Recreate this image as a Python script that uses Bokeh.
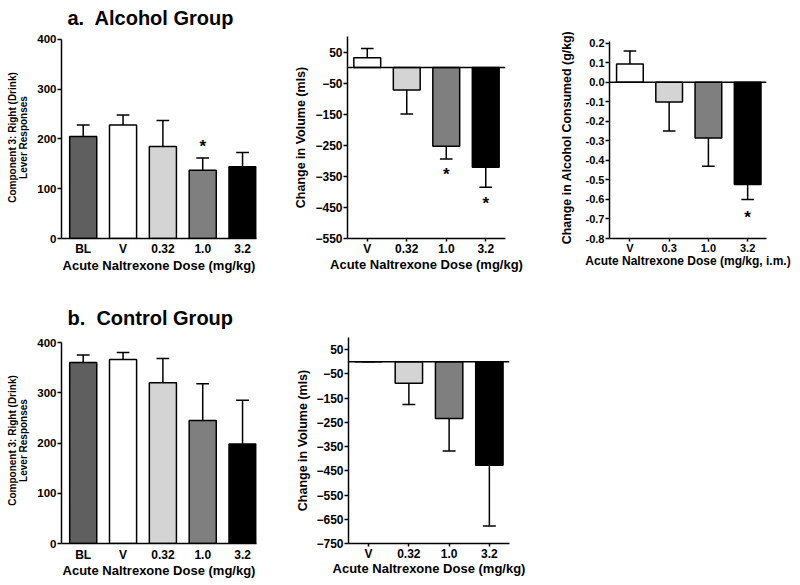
from bokeh.plotting import figure
from bokeh.models import Range1d, FixedTicker, Span, PrintfTickFormatter, ColumnDataSource
from bokeh.layouts import column, row
from bokeh.embed import file_html
from bokeh.resources import INLINE
from bokeh.core.properties import value

FONT = "Liberation Sans"

# ---------------- data ----------------
a1_cats = ["BL", "V", "0.32", "1.0", "3.2"]
a1_vals = [205, 228, 185, 137, 144]
a1_errs = [23, 20, 52, 25, 29]
a1_sig = [0, 0, 0, 1, 0]
a1_yticks = [0, 100, 200, 300, 400]
a1_axis = (0, 400)

a2_cats = ["V", "0.32", "1.0", "3.2"]
a2_vals = [32, -72, -253, -321]
a2_errs = [29, 77, 41, 64]
a2_sig = [0, 0, 1, 1]
a2_yticks = [50, -50, -150, -250, -350, -450, -550]
a2_axis = (-550, 100)

a3_cats = ["V", "0.3", "1.0", "3.2"]
a3_vals = [0.093, -0.101, -0.285, -0.523]
a3_errs = [0.067, 0.149, 0.145, 0.077]
a3_sig = [0, 0, 0, 1]
a3_yticks = [0.2, 0.1, 0.0, -0.1, -0.2, -0.3, -0.4, -0.5, -0.6, -0.7, -0.8]
a3_axis = (-0.8, 0.21)

b1_cats = ["BL", "V", "0.32", "1.0", "3.2"]
b1_vals = [360, 366, 320, 245, 198]
b1_errs = [15, 14, 48, 73, 87]
b1_sig = [0, 0, 0, 0, 0]
b1_yticks = [0, 100, 200, 300, 400]
b1_axis = (0, 400)

b2_cats = ["V", "0.32", "1.0", "3.2"]
b2_vals = [0, -89, -234, -427]
b2_errs = [0, 87, 134, 251]
b2_sig = [0, 0, 0, 0]
b2_yticks = [50, -50, -150, -250, -350, -450, -550, -650, -750]
b2_axis = (-750, 100)

colors5 = ["#5f5f5f", "#ffffff", "#d4d4d4", "#7f7f7f", "#000000"]
colors4 = colors5[1:]

xlabel_mgkg = "Acute Naltrexone Dose (mg/kg)"
xlabel_im = "Acute Naltrexone Dose (mg/kg, i.m.)"
ylabel_lever = "Component 3: Right (Drink)\nLever Responses"
ylabel_vol = "Change in Volume (mls)"
ylabel_alc = "Change in Alcohol Consumed (g/kg)"


def panel(cats, vals, errs, sig, colors, ylim, axis_bounds, yticks, ylabel, xlabel, xlim,
          width, height, borders, tick_font="12px", cat_font="12px",
          ylabel_font="12.5px", xlabel_font="13px", ylabel_standoff=10,
          xlabel_standoff=2, xcat_standoff=3, xticks_on=False, zero_line=False,
          title=None, title_standoff=10, title_valign="middle", fmt=None,
          bar_w=0.68, cap=0.16, star_up=-11, star_down=16):
    bl, br, bt, bb = borders
    p = figure(width=width, height=height, output_backend="svg", toolbar_location=None,
               x_range=Range1d(*xlim), y_range=Range1d(*ylim),
               min_border_left=bl, min_border_right=br, min_border_top=bt,
               min_border_bottom=bb, background_fill_color="white",
               border_fill_color="white")
    p.outline_line_color = None
    p.xgrid.visible = False
    p.ygrid.visible = False
    xs = list(range(len(cats)))
    ends = [v + e if v >= 0 else v - e for v, e in zip(vals, errs)]
    src = ColumnDataSource(dict(x=xs, top=vals, color=colors, end=ends,
                                c0=[x - cap for x in xs], c1=[x + cap for x in xs]))
    p.segment(x0="x", y0="top", x1="x", y1="end", line_color="black", line_width=1.5, source=src)
    p.segment(x0="c0", y0="end", x1="c1", y1="end", line_color="black", line_width=1.5, source=src)
    p.vbar(x="x", top="top", bottom=0, width=bar_w, fill_color="color",
           line_color="black", line_width=1.5, source=src)
    if zero_line:
        p.add_layout(Span(location=0, dimension="width", line_color="black", line_width=1.5))
    # significance markers
    sx, sy, so = [], [], []
    for x, v, e, s in zip(xs, vals, ends, sig):
        if s:
            sx.append(x)
            sy.append(e)
            so.append(star_up if v >= 0 else star_down)
    if sx:
        p.text(x=sx, y=sy, text=["*"] * len(sx), y_offset=so, text_align="center",
               text_baseline="middle", text_font=value(FONT), text_font_size="17px",
               text_font_style="bold", text_color="black")

    for ax in (p.xaxis[0], p.yaxis[0]):
        ax.axis_line_width = 1.5
        ax.axis_line_color = "black"
        ax.major_tick_line_width = 1.5
        ax.major_tick_in = 0
        ax.major_tick_out = 4
        ax.minor_tick_line_color = None
        ax.major_label_text_font = FONT
        ax.major_label_text_font_style = "bold"
        ax.major_label_text_color = "black"
        ax.axis_label_text_font = FONT
        ax.axis_label_text_font_style = "bold"
        ax.axis_label_text_color = "black"
    xa = p.xaxis[0]
    xa.ticker = FixedTicker(ticks=xs)
    xa.major_label_overrides = {i: c for i, c in zip(xs, cats)}
    xa.major_label_text_font_size = cat_font
    xa.axis_label = xlabel
    xa.axis_label_text_font_size = xlabel_font
    xa.axis_label_standoff = xlabel_standoff
    xa.major_label_standoff = xcat_standoff
    if xticks_on:
        xa.major_tick_out = 3
    else:
        xa.major_tick_line_color = None
        xa.major_tick_out = 0
    ya = p.yaxis[0]
    ya.ticker = FixedTicker(ticks=yticks)
    ya.bounds = axis_bounds
    if fmt:
        ya.formatter = PrintfTickFormatter(format=fmt)
    ya.major_label_text_font_size = tick_font
    ya.major_label_standoff = 1
    ya.axis_label = ylabel
    ya.axis_label_text_font_size = ylabel_font
    ya.axis_label_standoff = ylabel_standoff
    ya.axis_label_text_line_height = 1.0
    if title:
        p.title.text = title
        p.title.text_font = FONT
        p.title.text_font_size = "20px"
        p.title.text_font_style = "bold"
        p.title.text_color = "black"
        p.title.align = "left"
        p.title.vertical_align = title_valign
        p.title.offset = 6
        p.title.standoff = title_standoff
    return p


H1, H2 = 290, 294
# frames in a row share top/bottom; ranges chosen so the axes land where the reference draws them
fa1 = panel(a1_cats, a1_vals, a1_errs, a1_sig, colors5, (0, 406), a1_axis, a1_yticks,
            ylabel_lever, xlabel_mgkg, (-0.545, 4.35), 285, H1, (61, 29, 34, 52),
            tick_font="11.5px", ylabel_font="10px", ylabel_standoff=5,
            xcat_standoff=3, xlabel_standoff=-1,
            title="a.\u00a0 Alcohol Group", title_standoff=12, title_valign="top",
            star_up=-11)
fa2 = panel(a2_cats, a2_vals, a2_errs, a2_sig, colors4, (-550, 100), a2_axis, a2_yticks,
            ylabel_vol, xlabel_mgkg, (-0.5, 3.5), 260, H1, (62, 40, 34, 52),
            tick_font="12px", ylabel_font="12.5px", ylabel_standoff=4,
            xticks_on=True, xcat_standoff=0, xlabel_standoff=-2, zero_line=True,
            star_down=16)
fa3 = panel(a3_cats, a3_vals, a3_errs, a3_sig, colors4, (-0.8, 0.234), a3_axis, a3_yticks,
            ylabel_alc, xlabel_im, (-0.52, 3.48), 254, H1, (64, 33, 34, 52),
            tick_font="11px", cat_font="11px", ylabel_font="12.4px", ylabel_standoff=9,
            xlabel_font="12px", xlabel_standoff=-3, xticks_on=True, xcat_standoff=0,
            zero_line=True, fmt="%.1f", star_down=18)
fb1 = panel(b1_cats, b1_vals, b1_errs, b1_sig, colors5, (0, 410), b1_axis, b1_yticks,
            ylabel_lever, xlabel_mgkg, (-0.545, 4.35), 285, H2, (61, 29, 47, 41),
            tick_font="11.5px", ylabel_font="10px", ylabel_standoff=5,
            xcat_standoff=4, xlabel_standoff=-2,
            title="b.\u00a0 Control Group", title_standoff=16)
fb2 = panel(b2_cats, b2_vals, b2_errs, b2_sig, colors4, (-750, 100), b2_axis, b2_yticks,
            ylabel_vol, xlabel_mgkg, (-0.5, 3.5), 260, H2, (63, 36, 47, 41),
            tick_font="12px", ylabel_font="12.5px", ylabel_standoff=3,
            xticks_on=True, xcat_standoff=0, xlabel_standoff=-3, zero_line=True)

layout = column(row(fa1, fa2, fa3), row(fb1, fb2))
open("out.html", "w").write(file_html(layout, INLINE))
